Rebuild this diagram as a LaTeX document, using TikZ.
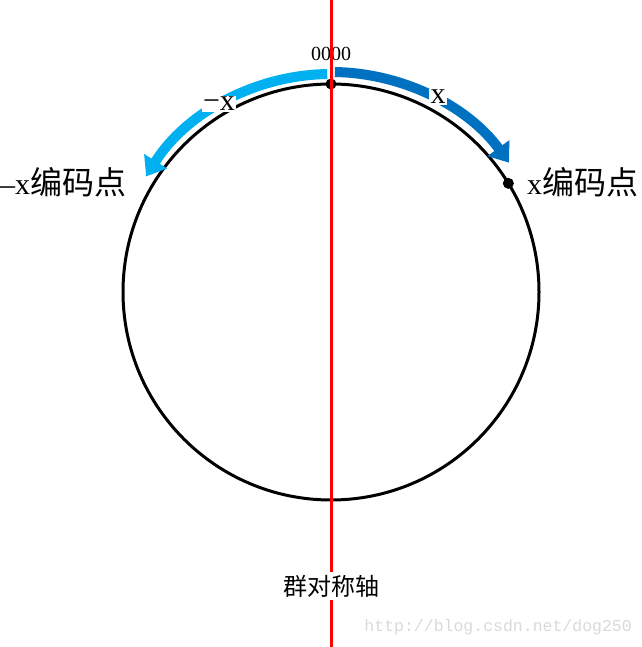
\documentclass[tikz,border=0pt]{standalone}
\usepackage{fontspec}
\setmainfont{Liberation Serif}
\newfontfamily\cjk{Noto Sans CJK SC}
\newfontfamily\wmono{Liberation Mono}
\usetikzlibrary{arrows.meta}
\definecolor{darkarrow}{HTML}{0070C0}
\definecolor{lightarrow}{HTML}{00B0F0}
\definecolor{axisred}{HTML}{FF0000}
\begin{document}
\begin{tikzpicture}[x=1pt,y=1pt,
  ring/.style={line width=3pt,black},
  dotmark/.style={circle,fill=black,inner sep=0pt,minimum size=11pt},
  bluearc/.style={line width=10pt,-{Triangle[width=26pt,length=18pt]}},
  cut/.style={fill=white,inner sep=1.5pt},
  lbl/.style={inner sep=0pt}]
\useasboundingbox (0,0) rectangle (641,647);
\coordinate (c) at (331,355);
\draw[ring] (c) circle[radius=208];
% arrows
\draw[bluearc,darkarrow] ([shift={(89:220)}]c) arc[start angle=89,end angle=36,radius=220];
\draw[bluearc,lightarrow] ([shift={(91:218)}]c) arc[start angle=91,end angle=148,radius=218];
% dots
\node[dotmark] (top) at ([shift={(90:208)}]c) {};
\node[dotmark] (xpt) at ([shift={(31.5:208)}]c) {};
% labels cutting arrows
\node[cut,font=\fontsize{30}{30}\selectfont] (xl) at (438,550) {x};
\node[cut,font=\fontsize{30}{30}\selectfont] (mxl) at (219,543) {−x};
\node[lbl,font=\fontsize{20}{20}\selectfont] (zero) at (331,593) {0000};
\node[lbl,anchor=west,font=\fontsize{30}{30}\selectfont] (xcode) at (527,465) {x{\cjk\fontsize{32}{32}\selectfont 编码点}};
\node[lbl,anchor=west,font=\fontsize{30}{30}\selectfont] (mxcode) at (0,465) {–x{\cjk\fontsize{32}{32}\selectfont 编码点}};
% red axis
\coordinate (atop) at (331,647);
\coordinate (abot) at (331,0);
\draw[axisred,line width=3pt] (atop) -- (abot);
\node[fill=white,inner sep=1pt,inner ysep=3pt,font=\cjk\fontsize{24}{24}\selectfont] (axis) at (331,61) {群对称轴};
\node[lbl,anchor=east,text=black!15,font=\wmono\fontsize{16.5}{16.5}\selectfont] (wm) at (632,20) {http://blog.csdn.net/dog250};
\end{tikzpicture}
\end{document}
